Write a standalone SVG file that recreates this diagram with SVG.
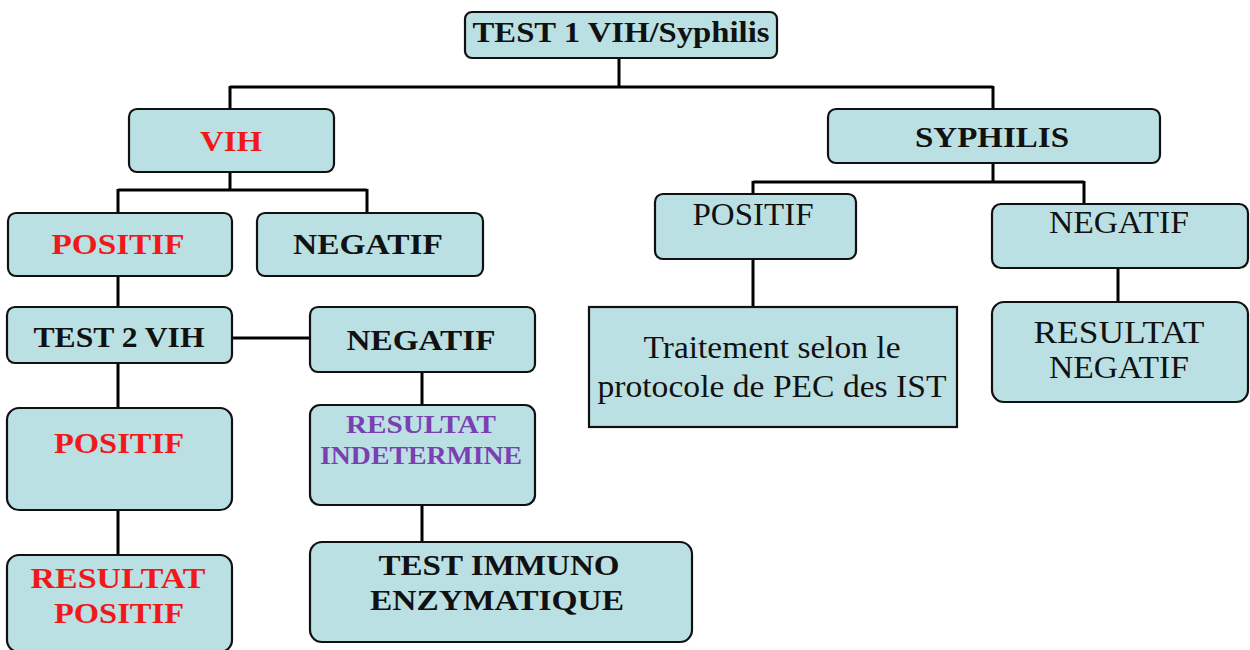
<svg xmlns="http://www.w3.org/2000/svg" width="1250" height="650" viewBox="0 0 1250 650">
<style>
.box{fill:#bbe0e3;stroke:#111;stroke-width:2.2}
.lk{fill:none;stroke:#000;stroke-width:3}
text{font-family:"Liberation Serif","Times New Roman",serif;text-anchor:middle;fill:#111}
.b{font-weight:bold;font-size:30px}
.r{font-size:31px}
.red{fill:#f01818}
.pur{fill:#7a3fb0;font-size:26px}
</style>
<rect width="1250" height="650" fill="#fff"/>
<g id="connectors">
<path class="lk" d="M619 58V87M230 87H993M230 86V109M993 86V109"/>
<path class="lk" d="M230 172V190M118 190H367M118 189V213M367 189V213"/>
<path class="lk" d="M118 276V307M232 338H310M118 363V408M118 510V555"/>
<path class="lk" d="M422 372V405M422 505V542"/>
<path class="lk" d="M993 162V182M753 182H1084M753 181V194M1084 181V204"/>
<path class="lk" d="M753 259V307M1118 268V302"/>
</g>
<g id="n-test1"><rect class="box" x="465" y="12" width="312" height="46" rx="7"/><text class="b" x="621" y="42" textLength="297" lengthAdjust="spacingAndGlyphs">TEST 1 VIH/Syphilis</text></g>
<g id="n-vih"><rect class="box" x="129" y="109" width="205" height="63" rx="8"/><text class="b red" x="231" y="151" textLength="62" lengthAdjust="spacingAndGlyphs">VIH</text></g>
<g id="n-syph"><rect class="box" x="828" y="109" width="332" height="54" rx="8"/><text class="b" x="992" y="147" textLength="154" lengthAdjust="spacingAndGlyphs">SYPHILIS</text></g>
<g id="n-vih-pos"><rect class="box" x="8" y="213" width="224" height="63" rx="8"/><text class="b red" x="118" y="254" textLength="133" lengthAdjust="spacingAndGlyphs">POSITIF</text></g>
<g id="n-vih-neg"><rect class="box" x="257" y="213" width="226" height="63" rx="8"/><text class="b" x="368" y="254" textLength="150" lengthAdjust="spacingAndGlyphs">NEGATIF</text></g>
<g id="n-test2"><rect class="box" x="7" y="307" width="225" height="56" rx="8"/><text class="b" x="119" y="347" textLength="171" lengthAdjust="spacingAndGlyphs">TEST 2 VIH</text></g>
<g id="n-neg2"><rect class="box" x="310" y="307" width="225" height="65" rx="8"/><text class="b" x="421" y="350" textLength="149" lengthAdjust="spacingAndGlyphs">NEGATIF</text></g>
<g id="n-indet"><rect class="box" x="310" y="405" width="225" height="100" rx="10"/><text class="b pur" x="421" y="433" textLength="150" lengthAdjust="spacingAndGlyphs">RESULTAT</text><text class="b pur" x="421" y="464" textLength="202" lengthAdjust="spacingAndGlyphs">INDETERMINE</text></g>
<g id="n-immuno"><rect class="box" x="310" y="542" width="382" height="100" rx="12"/><text class="b" x="499" y="575" textLength="241" lengthAdjust="spacingAndGlyphs">TEST IMMUNO</text><text class="b" x="497" y="610" textLength="254" lengthAdjust="spacingAndGlyphs">ENZYMATIQUE</text></g>
<g id="n-pos2"><rect class="box" x="7" y="408" width="225" height="102" rx="12"/><text class="b red" x="119" y="453" textLength="130" lengthAdjust="spacingAndGlyphs">POSITIF</text></g>
<g id="n-respos"><rect class="box" x="7" y="555" width="225" height="97" rx="12"/><text class="b red" x="118" y="588" textLength="175" lengthAdjust="spacingAndGlyphs">RESULTAT</text><text class="b red" x="119" y="623" textLength="130" lengthAdjust="spacingAndGlyphs">POSITIF</text></g>
<g id="n-syph-pos"><rect class="box" x="655" y="194" width="201" height="65" rx="8"/><text class="r" x="753" y="225" textLength="121" lengthAdjust="spacingAndGlyphs">POSITIF</text></g>
<g id="n-syph-neg"><rect class="box" x="992" y="204" width="256" height="64" rx="9"/><text class="r" x="1119" y="233" textLength="140" lengthAdjust="spacingAndGlyphs">NEGATIF</text></g>
<g id="n-traitement"><rect class="box" x="589" y="307" width="368" height="120"/><text class="r" x="772" y="358" textLength="257" lengthAdjust="spacingAndGlyphs">Traitement selon le</text><text class="r" x="772" y="397" textLength="349" lengthAdjust="spacingAndGlyphs">protocole de PEC des IST</text></g>
<g id="n-resneg"><rect class="box" x="992" y="302" width="256" height="100" rx="12"/><text class="r" x="1119" y="343" textLength="171" lengthAdjust="spacingAndGlyphs">RESULTAT</text><text class="r" x="1119" y="378" textLength="140" lengthAdjust="spacingAndGlyphs">NEGATIF</text></g>
</svg>
